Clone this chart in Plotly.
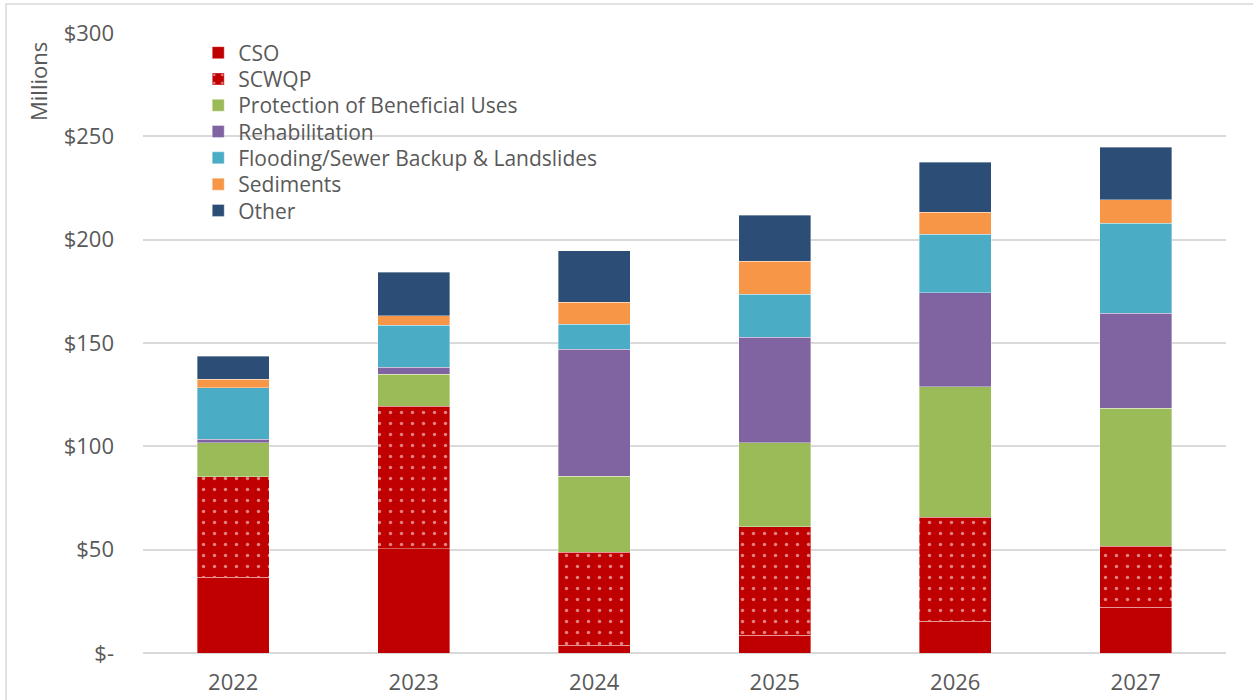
import plotly.graph_objects as go

# Annual program spending by category ($ millions)
years = ["2022", "2023", "2024", "2025", "2026", "2027"]

cso = [36.6, 50.5, 3.7, 8.5, 15.4, 22.2]
scwqp = [48.7, 69.0, 45.0, 52.6, 50.3, 29.4]
beneficial_uses = [16.5, 15.3, 36.9, 40.6, 63.2, 66.9]
rehabilitation = [1.7, 3.4, 61.3, 51.1, 45.5, 45.8]
flooding = [24.9, 20.3, 12.1, 20.9, 28.3, 43.7]
sediments = [4.0, 4.7, 10.7, 15.8, 10.5, 11.4]
other = [11.3, 21.0, 25.0, 22.4, 24.2, 25.4]

y_ticks = [0, 50, 100, 150, 200, 250, 300]
y_tick_labels = ["$-", "$50", "$100", "$150", "$200", "$250", "$300"]

series = [
    ("CSO", cso, "#C00000", None),
    ("SCWQP", scwqp, "#C00000", "."),
    ("Protection of Beneficial Uses", beneficial_uses, "#9BBB59", None),
    ("Rehabilitation", rehabilitation, "#8064A2", None),
    ("Flooding/Sewer Backup & Landslides", flooding, "#4BACC6", None),
    ("Sediments", sediments, "#F79646", None),
    ("Other", other, "#2C4D75", None),
]

FONT = "Open Sans"
GREY = "#595959"
TICK_SIZE = 22
LEGEND_SIZE = 21

# plot area in pixels
W, H = 1253, 700
L, R, T, B = 143, 27, 33, 47
plot_h = H - T - B

# one compact legend per series so rows sit tightly stacked
row_top = 53          # pixel centre of the first legend row
row_step = 26.3       # pixel spacing between legend rows

fig = go.Figure()
legend_layouts = {}
for i, (name, vals, color, pat) in enumerate(series):
    marker = dict(color=color, line=dict(color="rgba(255,255,255,0.45)", width=0.8))
    if pat:
        marker["pattern"] = dict(shape=pat, fgcolor="white", bgcolor=color,
                                 size=11, solidity=0.08, fillmode="overlay")
    legend_id = "legend" if i == 0 else f"legend{i + 1}"
    fig.add_trace(go.Bar(x=years, y=vals, name=name, marker=marker,
                         legend=legend_id, showlegend=True))
    y_px = row_top + i * row_step
    legend_layouts[legend_id] = dict(
        x=0.051, y=(H - B - y_px) / plot_h, xanchor="left", yanchor="middle",
        bgcolor="rgba(0,0,0,0)", borderwidth=0, visible=True,
        font=dict(family=FONT, size=LEGEND_SIZE, color=GREY),
        itemwidth=30,
    )

fig.update_layout(
    width=W, height=H,
    margin=dict(l=L, r=R, t=T, b=B),
    barmode="stack", bargap=0.6, showlegend=True,
    plot_bgcolor="white", paper_bgcolor="white",
    font=dict(family=FONT, size=TICK_SIZE, color=GREY),
    xaxis=dict(showgrid=False, showline=False, ticks="", ticklabelstandoff=14,
               automargin=False,
               tickfont=dict(family=FONT, size=TICK_SIZE, color=GREY)),
    yaxis=dict(range=[0, 300], tickvals=y_ticks, ticktext=y_tick_labels,
               showgrid=True, gridcolor="#D9D9D9", gridwidth=2,
               zeroline=True, zerolinecolor="#D9D9D9", zerolinewidth=2,
               showline=False, ticks="", ticklabelstandoff=28, automargin=False,
               tickfont=dict(family=FONT, size=TICK_SIZE, color=GREY)),
    annotations=[dict(text="Millions", xref="paper", yref="paper",
                      x=(38 - L) / (W - L - R), y=(H - B - 82) / plot_h,
                      textangle=-90, showarrow=False,
                      xanchor="center", yanchor="middle",
                      font=dict(family=FONT, size=22, color=GREY))],
    shapes=[dict(type="rect", xref="paper", yref="paper",
                 x0=(6 - L) / (W - L - R), x1=1.1,
                 y0=-0.2, y1=(H - B - 4) / plot_h,
                 line=dict(color="#D9D9D9", width=1.5), layer="below")],
    **legend_layouts,
)

fig.write_html("out.html")
